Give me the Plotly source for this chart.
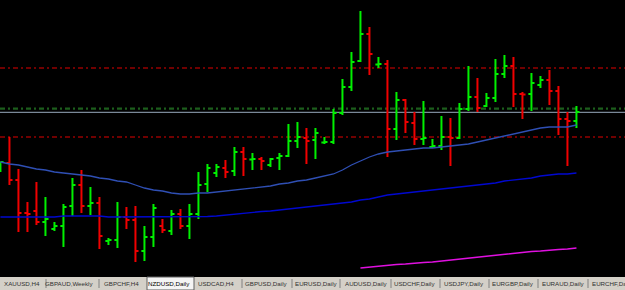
import plotly.graph_objects as go

# ---------------- data (price units, 1 unit = 1 screen pixel) ----------------
bar_index = list(range(65))
opens = [129, 137, 120, 87, 89, 78, 71, 74, 94, 115, 94, 97, 59, 60, 83, 80, 49, 63, 74, 69,
         86, 74, 86, 116, 127, 132, 129, 148, 140.5, 141, 135, 142, 144, 159, 162, 160, 157.5, 158, 187, 213,
         239, 266, 235.5, 236, 171, 200, 177, 161, 153, 154, 163, 162, 191, 203, 194, 202, 226, 234, 206, 206,
         215, 220, 209, 181, 179]
highs = [138, 163, 131, 98, 118, 103, 78, 96, 122, 130, 113, 103, 62, 98, 93, 94, 74, 96, 81, 90,
         91, 96, 128, 136, 136, 140, 153, 153, 147, 143, 142, 147, 176, 178, 172, 172, 163, 191, 221, 248,
         289, 273, 243, 240, 208, 201, 188, 199, 161, 184, 182, 197, 234, 222, 207, 241, 245, 243, 208, 227,
         224, 230, 214, 188, 194]
lows = [128, 115, 68, 68, 75, 64, 69, 53, 84, 87, 85, 51, 55, 52, 71, 38, 39, 53, 67, 65,
        71, 61, 81, 108, 123, 122, 124, 124, 130, 130, 133, 130, 143, 152, 136, 141, 156, 156, 185, 209,
        238, 225, 232, 143, 160, 167, 155, 155, 152, 150, 134, 161, 189, 188, 193, 198, 222, 193, 181, 189,
        212, 195, 165, 134, 172]
closes = [138, 120, 87, 86, 78, 81, 74, 93, 115, 94, 97, 64, 60, 83, 80, 49, 63, 92, 70, 86,
          74, 86, 115, 132, 133, 128, 148, 141, 141, 139, 141, 144, 159, 163, 159, 167, 158, 187, 213, 238,
          266, 246, 236, 171, 200, 178, 161, 162, 154, 163, 162, 191, 203, 192, 202, 226, 234, 206, 205.5, 217,
          220, 209, 181, 179, 188]

ma_fast = [138, 136, 135, 133, 131, 130, 128, 127, 126, 125, 124, 122, 121, 119, 118, 115, 112, 110, 109, 107,
           106, 106, 107, 107, 108, 109, 110, 111, 112, 113, 114, 116, 117, 119, 120, 122, 124, 126, 130, 135,
           139, 143, 146, 148, 149, 150, 151, 152, 152, 153, 154, 155, 156, 158, 160, 162, 164, 166, 168, 170,
           172, 173, 173, 173, 175]
ma_mid = [83, 83, 83, 83, 83, 83, 83, 84, 84, 84, 84, 84, 83, 83, 83, 83, 83, 83, 83, 83,
          83, 83, 83, 83.5, 84, 85, 86, 87, 88, 88.5, 89, 90, 91, 92, 93, 94, 95, 96, 97, 98,
          100, 101, 103, 105, 106, 107, 108, 109, 110, 111, 112, 113, 114, 115, 116, 117, 119, 120, 121, 122,
          124, 125, 126, 126, 127]
ma_slow_index = list(range(40, 65))
ma_slow = [32, 33, 34, 34.5, 35.5, 36, 37, 37.5, 38, 39, 40, 40.5, 41.5, 42.5, 43.5, 44.5, 45.5, 46.5,
           47.5, 48.5, 49, 50, 50.5, 51, 52]

level_red_upper = 232
level_red_lower = 163
level_green = 191.3
level_grey = 187.7

tab_labels = ["XAUUSD,H4", "GBPAUD,Weekly", "GBPCHF,H4", "NZDUSD,Daily", "USDCAD,H4", "GBPUSD,Daily",
              "EURUSD,Daily", "AUDUSD,Daily", "USDCHF,Daily", "USDJPY,Daily", "EURGBP,Daily",
              "EURAUD,Daily", "EURCHF,Daily"]
active_tab = "NZDUSD,Daily"

# ---------------- layout constants ----------------
W, H = 625, 290
TAB_H = 13
tab_centers = [22, 69, 121, 169, 216, 266, 316, 366, 414, 464, 513, 563, 612]
separators = [46, 99, 242, 292, 340, 391, 440, 489, 538, 588]
active_box = (147, 194)

fig = go.Figure()

fig.add_trace(go.Ohlc(
    x=bar_index, open=opens, high=highs, low=lows, close=closes,
    increasing=dict(line=dict(color="#00f000", width=2)),
    decreasing=dict(line=dict(color="#f00000", width=2)),
    tickwidth=0.34, hoverinfo="skip", showlegend=False,
))

fig.add_trace(go.Scatter(x=bar_index, y=ma_fast, mode="lines",
                         line=dict(color="#2f4fb4", width=1.3), hoverinfo="skip", showlegend=False))
fig.add_trace(go.Scatter(x=bar_index, y=ma_mid, mode="lines",
                         line=dict(color="#0008d0", width=1.3), hoverinfo="skip", showlegend=False))
fig.add_trace(go.Scatter(x=ma_slow_index, y=ma_slow, mode="lines",
                         line=dict(color="#e010e0", width=1.6), hoverinfo="skip", showlegend=False))

shapes = []
for lvl, col, wd in [(level_red_upper, "#e00000", 1.2), (level_red_lower, "#e00000", 1.2),
                     (level_green, "#1c5e1c", 2.2)]:
    shapes.append(dict(type="line", xref="paper", yref="y", x0=0, x1=1, y0=lvl, y1=lvl,
                       line=dict(color=col, width=wd, dash="5px,3px,2px,3px"), layer="below"))
shapes.append(dict(type="line", xref="paper", yref="y", x0=0, x1=1, y0=level_grey, y1=level_grey,
                   line=dict(color="#7a8898", width=1.2), layer="below"))

# tab bar
tb = TAB_H / H
shapes.append(dict(type="rect", xref="paper", yref="paper", x0=0, x1=1, y0=0, y1=tb,
                   fillcolor="#d4d0c8", line=dict(width=0), layer="above"))
shapes.append(dict(type="rect", xref="paper", yref="paper", x0=active_box[0] / W, x1=active_box[1] / W,
                   y0=0, y1=tb, fillcolor="#f4f4f4", line=dict(color="#606060", width=1), layer="above"))
for sx in separators:
    shapes.append(dict(type="line", xref="paper", yref="paper", x0=sx / W, x1=sx / W,
                       y0=2 / H, y1=(TAB_H - 2) / H, line=dict(color="#808080", width=1), layer="above"))

annotations = []
for lab, cx in zip(tab_labels, tab_centers):
    annotations.append(dict(x=cx / W, y=(TAB_H / 2) / H, xref="paper", yref="paper", text=lab,
                            showarrow=False, xanchor="center", yanchor="middle",
                            font=dict(family="Liberation Sans, Arial", size=6.2,
                                      color="#000000" if lab == active_tab else "#303030")))

fig.update_layout(
    width=W, height=H, margin=dict(l=0, r=0, t=0, b=0),
    paper_bgcolor="#000000", plot_bgcolor="#000000",
    shapes=shapes, annotations=annotations,
    xaxis=dict(range=[-0.05, W / 9 - 0.05], visible=False, showgrid=False, zeroline=False,
               rangeslider=dict(visible=False), fixedrange=True),
    yaxis=dict(range=[300 - (H - TAB_H), 300], domain=[TAB_H / H, 1], visible=False,
               showgrid=False, zeroline=False, fixedrange=True),
    showlegend=False,
)

fig.write_html("out.html", config={"displayModeBar": False})
